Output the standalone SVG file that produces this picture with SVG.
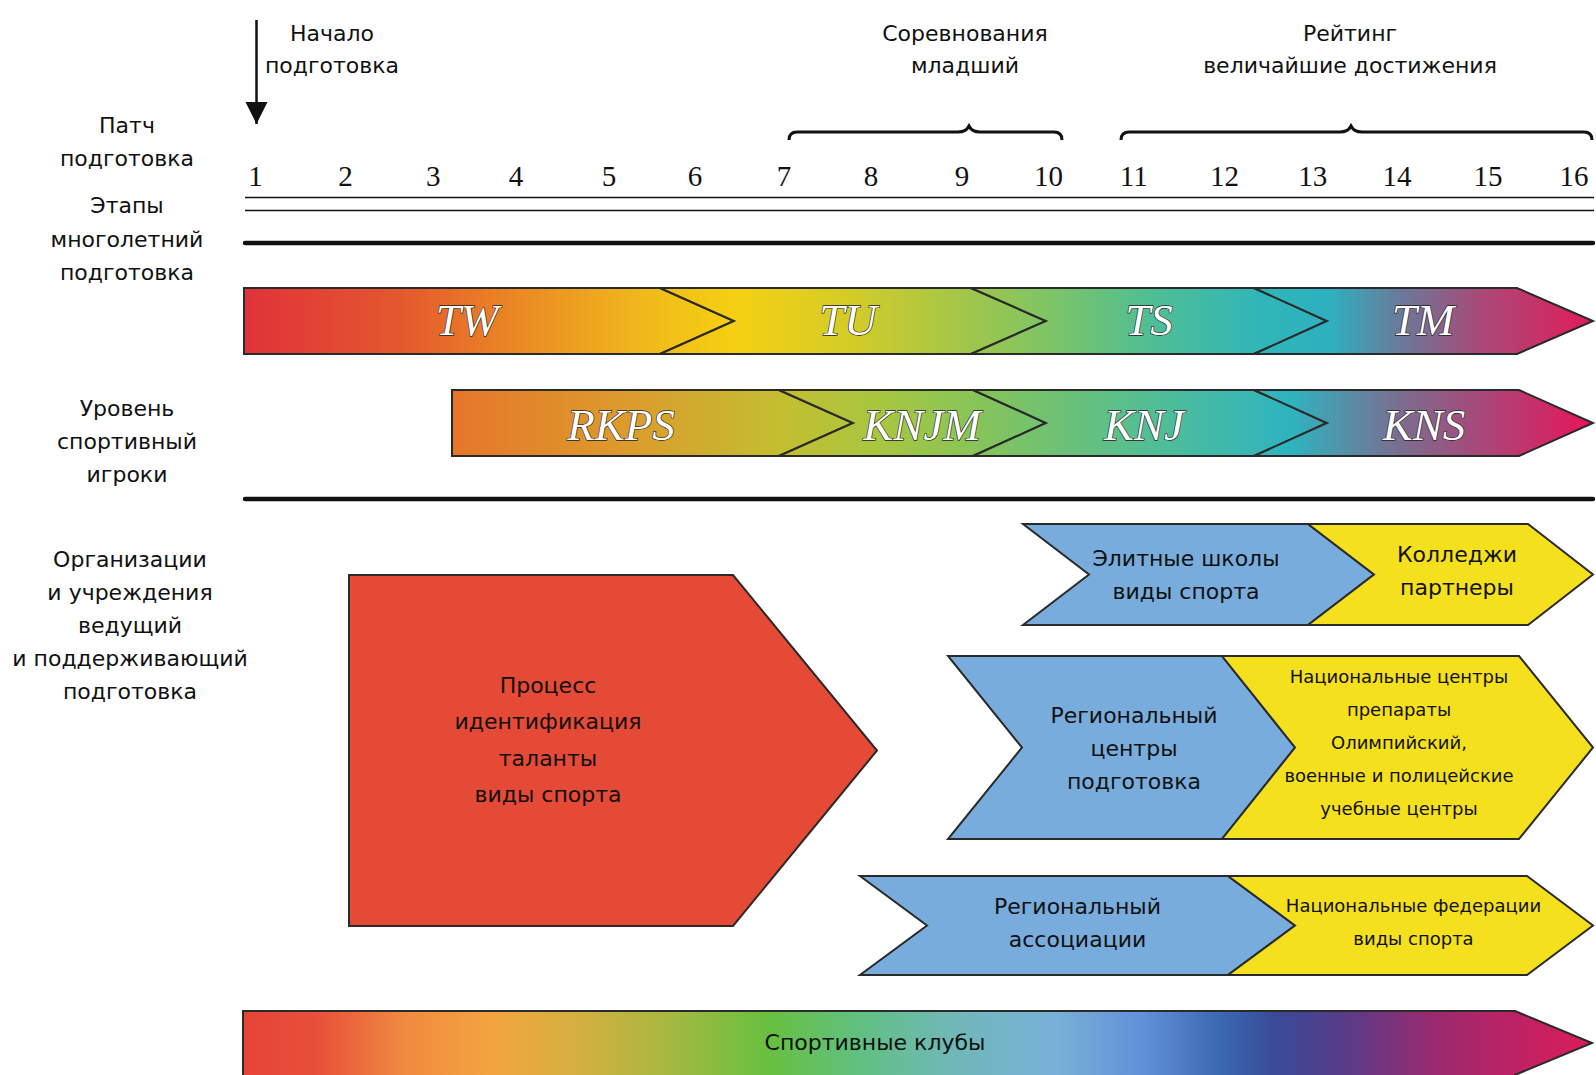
<svg xmlns="http://www.w3.org/2000/svg" width="1596" height="1075" viewBox="0 0 1596 1075">
<defs>
<style>
.t{font-family:"DejaVu Sans","Noto Sans",sans-serif;font-size:22px;fill:#111;text-anchor:middle}
.s{font-size:18px}
.n{font-family:"Liberation Serif","Times New Roman",serif;font-size:29px;fill:#111;text-anchor:middle}
.g{font-family:"Liberation Serif","Times New Roman",serif;font-style:italic;font-size:45px;fill:#fff;stroke:#222;stroke-width:1.3;paint-order:stroke;text-anchor:middle}
.sh{stroke:#2a2a2a;stroke-width:2;stroke-linejoin:miter}
.blue{fill:#78acdc}
.yel{fill:#f4e01c}
.br{fill:none;stroke:#111;stroke-width:3}
</style>
<linearGradient id="g1" gradientUnits="userSpaceOnUse" x1="244" y1="0" x2="1593" y2="0">
<stop offset="0" stop-color="#e0323a"/>
<stop offset="0.116" stop-color="#e4582e"/>
<stop offset="0.205" stop-color="#ea8a24"/>
<stop offset="0.294" stop-color="#f0b81c"/>
<stop offset="0.364" stop-color="#f5d012"/>
<stop offset="0.449" stop-color="#d4cc28"/>
<stop offset="0.531" stop-color="#a4c648"/>
<stop offset="0.597" stop-color="#7ec466"/>
<stop offset="0.672" stop-color="#50be94"/>
<stop offset="0.753" stop-color="#30b6b8"/>
<stop offset="0.805" stop-color="#2eb0c0"/>
<stop offset="0.857" stop-color="#6a7a9a"/>
<stop offset="0.916" stop-color="#a84a78"/>
<stop offset="1" stop-color="#e21c58"/>
</linearGradient>
<linearGradient id="g2" gradientUnits="userSpaceOnUse" x1="452" y1="0" x2="1593" y2="0">
<stop offset="0" stop-color="#e6762a"/>
<stop offset="0.147" stop-color="#dc9a2c"/>
<stop offset="0.287" stop-color="#c4be30"/>
<stop offset="0.375" stop-color="#a8c640"/>
<stop offset="0.462" stop-color="#86c45a"/>
<stop offset="0.611" stop-color="#52be94"/>
<stop offset="0.734" stop-color="#2eb4c0"/>
<stop offset="0.83" stop-color="#7a6e90"/>
<stop offset="1" stop-color="#e8145a"/>
</linearGradient>
<linearGradient id="g3" gradientUnits="userSpaceOnUse" x1="243" y1="0" x2="1592" y2="0">
<stop offset="0" stop-color="#e64438"/>
<stop offset="0.055" stop-color="#e8503a"/>
<stop offset="0.12" stop-color="#f08a40"/>
<stop offset="0.184" stop-color="#f4a440"/>
<stop offset="0.248" stop-color="#d4b040"/>
<stop offset="0.313" stop-color="#a8b840"/>
<stop offset="0.39" stop-color="#68c040"/>
<stop offset="0.455" stop-color="#60c080"/>
<stop offset="0.526" stop-color="#70b8b8"/>
<stop offset="0.603" stop-color="#78b0d8"/>
<stop offset="0.668" stop-color="#6090d8"/>
<stop offset="0.726" stop-color="#3a68b0"/>
<stop offset="0.765" stop-color="#3a4a98"/>
<stop offset="0.817" stop-color="#583c88"/>
<stop offset="0.881" stop-color="#9a2a70"/>
<stop offset="1" stop-color="#dc1c58"/>
</linearGradient>
<marker id="ah" viewBox="0 0 10 10" refX="10" refY="5" markerWidth="9" markerHeight="9" markerUnits="strokeWidth" orient="auto">
<path d="M0,0 L10,5 L0,10 z" fill="#111"/>
</marker>
</defs>
<rect width="1596" height="1075" fill="#fff"/>

<g id="connectors">
<line x1="256.5" y1="20" x2="256.5" y2="124" stroke="#111" stroke-width="2.5" marker-end="url(#ah)"/>
<line x1="245" y1="197.5" x2="1594" y2="197.5" stroke="#111" stroke-width="1.5"/>
<line x1="245" y1="210.5" x2="1594" y2="210.5" stroke="#111" stroke-width="1.5"/>
<line x1="245" y1="243" x2="1593" y2="243" stroke="#111" stroke-width="4.5" stroke-linecap="round"/>
<line x1="245" y1="499" x2="1593" y2="499" stroke="#111" stroke-width="4.5" stroke-linecap="round"/>
<path class="br" d="M789,140 Q789,132 797,132 L958,132 Q966,132 969,126 Q972,132 980,132 L1054,132 Q1062,132 1062,140"/>
<path class="br" d="M1121,140 Q1121,132 1129,132 L1340,132 Q1348,132 1351,126 Q1354,132 1362,132 L1584,132 Q1592,132 1592,140"/>
</g>

<g id="labels">
<text class="t" x="332" y="40.5">Начало</text>
<text class="t" x="332" y="73">подготовка</text>
<text class="t" x="965" y="40.5">Соревнования</text>
<text class="t" x="965" y="73">младший</text>
<text class="t" x="1350" y="40.5">Рейтинг</text>
<text class="t" x="1350" y="73">величайшие достижения</text>
<text class="t" x="127" y="133">Патч</text>
<text class="t" x="127" y="166">подготовка</text>
<text class="t" x="127" y="213">Этапы</text>
<text class="t" x="127" y="246.5">многолетний</text>
<text class="t" x="127" y="280">подготовка</text>
<text class="t" x="127" y="415.5">Уровень</text>
<text class="t" x="127" y="449">спортивный</text>
<text class="t" x="127" y="482">игроки</text>
<text class="t" x="130" y="566.5">Организации</text>
<text class="t" x="130" y="599.5">и учреждения</text>
<text class="t" x="130" y="632.5">ведущий</text>
<text class="t" x="130" y="665.5">и поддерживающий</text>
<text class="t" x="130" y="698.5">подготовка</text>
</g>

<g id="years">
<text class="n" x="255.6" y="186">1</text>
<text class="n" x="345.6" y="186">2</text>
<text class="n" x="433.2" y="186">3</text>
<text class="n" x="516" y="186">4</text>
<text class="n" x="609" y="186">5</text>
<text class="n" x="695" y="186">6</text>
<text class="n" x="784" y="186">7</text>
<text class="n" x="871" y="186">8</text>
<text class="n" x="962" y="186">9</text>
<text class="n" x="1048.5" y="186">10</text>
<text class="n" x="1133.7" y="186">11</text>
<text class="n" x="1224.5" y="186">12</text>
<text class="n" x="1312.8" y="186">13</text>
<text class="n" x="1397" y="186">14</text>
<text class="n" x="1488" y="186">15</text>
<text class="n" x="1574" y="186">16</text>
</g>

<g id="stage-TW">
<polygon class="sh" fill="url(#g1)" points="244,288 660,288 734,321 660,354 244,354"/>
<text class="g" x="467" y="335">TW</text>
</g>
<g id="stage-TU">
<polygon class="sh" fill="url(#g1)" points="660,288 971,288 1046,321 971,354 660,354 734,321"/>
<text class="g" x="848" y="335">TU</text>
</g>
<g id="stage-TS">
<polygon class="sh" fill="url(#g1)" points="971,288 1254,288 1327,321 1254,354 971,354 1046,321"/>
<text class="g" x="1149" y="335">TS</text>
</g>
<g id="stage-TM">
<polygon class="sh" fill="url(#g1)" points="1254,288 1517,288 1593,321 1517,354 1254,354 1327,321"/>
<text class="g" x="1423" y="335">TM</text>
</g>

<g id="level-RKPS">
<polygon class="sh" fill="url(#g2)" points="452,390 779,390 853,423 779,456 452,456"/>
<text class="g" x="621" y="440">RKPS</text>
</g>
<g id="level-KNJM">
<polygon class="sh" fill="url(#g2)" points="779,390 973,390 1046,423 973,456 779,456 853,423"/>
<text class="g" x="922" y="440">KNJM</text>
</g>
<g id="level-KNJ">
<polygon class="sh" fill="url(#g2)" points="973,390 1254,390 1327,423 1254,456 973,456 1046,423"/>
<text class="g" x="1144" y="440">KNJ</text>
</g>
<g id="level-KNS">
<polygon class="sh" fill="url(#g2)" points="1254,390 1519,390 1593,423 1519,456 1254,456 1327,423"/>
<text class="g" x="1424" y="440">KNS</text>
</g>

<g id="talent-process">
<polygon class="sh" fill="#e54a37" points="349,575 733,575 877,750.5 733,926 349,926"/>
<text class="t" x="548" y="692.5">Процесс</text>
<text class="t" x="548" y="729">идентификация</text>
<text class="t" x="548" y="765.5">таланты</text>
<text class="t" x="548" y="802">виды спорта</text>
</g>

<g id="elite-schools">
<polygon class="sh blue" points="1023,524 1308,524 1374,574.5 1308,625 1023,625 1089,574.5"/>
<text class="t" x="1186" y="566">Элитные школы</text>
<text class="t" x="1186" y="599">виды спорта</text>
</g>
<g id="colleges">
<polygon class="sh yel" points="1308,524 1528,524 1593,574.5 1528,625 1308,625 1374,574.5"/>
<text class="t" x="1457" y="561.5">Колледжи</text>
<text class="t" x="1457" y="594.5">партнеры</text>
</g>

<g id="regional-centers">
<polygon class="sh blue" points="948,656 1222,656 1295,747.5 1222,839 948,839 1022,747.5"/>
<text class="t" x="1134" y="723">Региональный</text>
<text class="t" x="1134" y="756">центры</text>
<text class="t" x="1134" y="789">подготовка</text>
</g>
<g id="national-centers">
<polygon class="sh yel" points="1222,656 1519,656 1593,747.5 1519,839 1222,839 1295,747.5"/>
<text class="t s" x="1399" y="683">Национальные центры</text>
<text class="t s" x="1399" y="716">препараты</text>
<text class="t s" x="1399" y="749">Олимпийский,</text>
<text class="t s" x="1399" y="782">военные и полицейские</text>
<text class="t s" x="1399" y="815">учебные центры</text>
</g>

<g id="regional-associations">
<polygon class="sh blue" points="860,876 1228,876 1295,925.5 1228,975 860,975 927,925.5"/>
<text class="t" x="1077.5" y="914">Региональный</text>
<text class="t" x="1077.5" y="947">ассоциации</text>
</g>
<g id="national-federations">
<polygon class="sh yel" points="1228,876 1527,876 1593,925.5 1527,975 1228,975 1295,925.5"/>
<text class="t s" x="1413.5" y="911.5">Национальные федерации</text>
<text class="t s" x="1413.5" y="944.5">виды спорта</text>
</g>

<g id="sports-clubs">
<polygon class="sh" fill="url(#g3)" points="243,1011 1515,1011 1592,1043 1515,1075 1515,1080 243,1080"/>
<text class="t" x="875" y="1050">Спортивные клубы</text>
</g>
</svg>
